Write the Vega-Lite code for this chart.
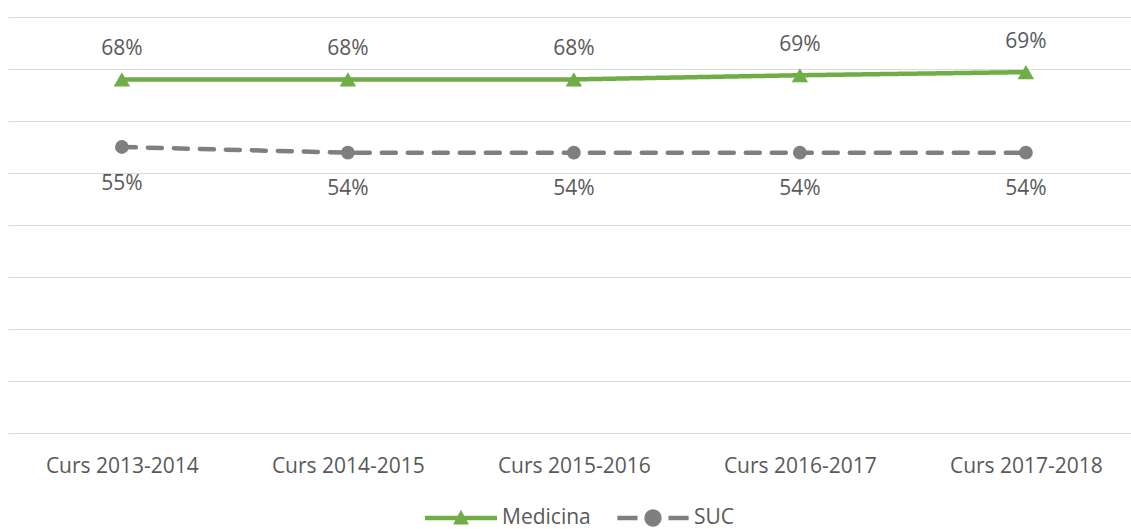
{
  "$schema": "https://vega.github.io/schema/vega-lite/v6.json",
  "width": 1123,
  "height": 416,
  "autosize": {"type": "none"},
  "padding": {"left": 8, "top": 17, "right": 0, "bottom": 96},
  "background": "white",
  "config": {"view": {"stroke": null}, "font": "Open Sans"},
  "data": {
    "values": [
      {"curs": "Curs 2013-2014", "serie": "Medicina", "valor": 0.680},
      {"curs": "Curs 2014-2015", "serie": "Medicina", "valor": 0.680},
      {"curs": "Curs 2015-2016", "serie": "Medicina", "valor": 0.680},
      {"curs": "Curs 2016-2017", "serie": "Medicina", "valor": 0.688},
      {"curs": "Curs 2017-2018", "serie": "Medicina", "valor": 0.694},
      {"curs": "Curs 2013-2014", "serie": "SUC", "valor": 0.550},
      {"curs": "Curs 2014-2015", "serie": "SUC", "valor": 0.539},
      {"curs": "Curs 2015-2016", "serie": "SUC", "valor": 0.539},
      {"curs": "Curs 2016-2017", "serie": "SUC", "valor": 0.539},
      {"curs": "Curs 2017-2018", "serie": "SUC", "valor": 0.539}
    ]
  },
  "encoding": {
    "x": {
      "field": "curs", "type": "ordinal", "sort": null,
      "scale": {"type": "point", "padding": 0.4845, "align": 0.52},
      "axis": {"title": null, "domain": false, "ticks": false, "tickSize": 0, "grid": false,
               "labelPadding": 33, "labelBaseline": "middle", "labelAngle": 0,
               "labelFont": "Open Sans", "labelFontSize": 21, "labelColor": "#595959"}
    },
    "y": {
      "field": "valor", "type": "quantitative",
      "scale": {"domain": [0, 0.8], "nice": false, "zero": true},
      "axis": {"title": null, "labels": false, "ticks": false, "domain": false, "grid": true,
               "values": [0, 0.1, 0.2, 0.3, 0.4, 0.5, 0.6, 0.7, 0.8],
               "gridColor": "#d9d9d9", "gridWidth": 1}
    }
  },
  "layer": [
    {
      "mark": {"type": "line", "strokeWidth": 4.5, "strokeCap": "round"},
      "encoding": {
        "color": {
          "field": "serie", "type": "nominal",
          "scale": {"domain": ["Medicina", "SUC"], "range": ["#70AD47", "#7F7F7F"]},
          "legend": {
            "title": null, "orient": "none", "direction": "horizontal",
            "legendX": 417, "legendY": 465,
            "labelFont": "Open Sans", "labelFontSize": 21, "labelColor": "#595959",
            "symbolSize": 5184, "labelOffset": 5, "columnPadding": 26,
            "encode": {
              "symbols": {
                "update": {
                  "shape": {"signal": "datum.value === 'Medicina' ? 'M-1,-0.0625H1V0.0625H-1Z M-0.22,0.18L0,-0.23L0.22,0.18Z' : 'M-0.99,-0.0625H-0.43V0.0625H-0.99Z M-0.24,0A0.24,0.24 0 1,1 0.24,0A0.24,0.24 0 1,1 -0.24,0Z M0.43,-0.0625H0.99V0.0625H0.43Z'"},
                  "fill": {"scale": "color", "field": "value"},
                  "stroke": {"value": "transparent"},
                  "strokeWidth": {"value": 0},
                  "strokeDash": {"value": []},
                  "size": {"value": 5184},
                  "opacity": {"value": 1}
                }
              }
            }
          }
        },
        "strokeDash": {
          "field": "serie", "type": "nominal",
          "scale": {"domain": ["Medicina", "SUC"], "range": [[1, 0], [14, 12]]},
          "legend": null
        }
      }
    },
    {
      "transform": [{"filter": "datum.serie === 'Medicina'"}],
      "mark": {"type": "point", "filled": true, "opacity": 1, "shape": "triangle-up", "size": 270, "color": "#70AD47"}
    },
    {
      "transform": [{"filter": "datum.serie === 'SUC'"}],
      "mark": {"type": "point", "filled": true, "opacity": 1, "shape": "circle", "size": 190, "color": "#7F7F7F"}
    },
    {
      "transform": [{"filter": "datum.serie === 'Medicina'"}],
      "mark": {"type": "text", "font": "Open Sans", "fontSize": 21, "color": "#595959", "baseline": "middle", "dy": -30},
      "encoding": {"text": {"field": "valor", "type": "quantitative", "format": ".0%"}}
    },
    {
      "transform": [{"filter": "datum.serie === 'SUC'"}],
      "mark": {"type": "text", "font": "Open Sans", "fontSize": 21, "color": "#595959", "baseline": "middle", "dy": 36.5},
      "encoding": {"text": {"field": "valor", "type": "quantitative", "format": ".0%"}}
    }
  ]
}
